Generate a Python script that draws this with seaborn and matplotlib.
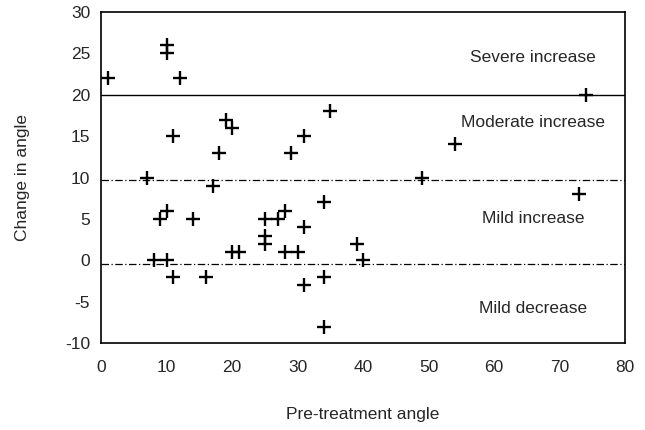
import matplotlib
matplotlib.use("Agg")
import matplotlib.pyplot as plt
import seaborn as sns
import pandas as pd

# data
pre_angle = [1, 10, 10, 12, 11, 19, 20, 18, 29, 31, 35, 7, 17, 9, 10, 14,
             8, 10, 11, 16, 20, 21, 25, 25, 25, 27, 28, 28, 30, 31, 31,
             34, 34, 34, 39, 40, 54, 49, 73, 74]
change = [22, 26, 25, 22, 15, 17, 16, 13, 13, 15, 18, 10, 9, 5, 6, 5,
          0, 0, -2, -2, 1, 1, 5, 3, 2, 5, 6, 1, 1, 4, -3,
          7, -2, -8, 2, 0, 14, 10, 8, 20]
zones = ["Severe increase", "Moderate increase", "Mild increase", "Mild decrease"]
zone_y = [24.5, 16.7, 5.0, -5.8]
cutoffs = [20, 9.7, -0.4]

df = pd.DataFrame({"pre": pre_angle, "change": change})

sns.set_style("white")
plt.rcParams["font.family"] = ["Liberation Sans", "DejaVu Sans"]
plt.rcParams["axes.unicode_minus"] = False

fig = plt.figure(figsize=(6.45, 4.3), dpi=100)
ax = fig.add_axes([0.157, 0.202, 0.812, 0.770])

sns.scatterplot(data=df, x="pre", y="change", marker="+", s=95,
                color="black", linewidth=1.7, ax=ax)

ax.axhline(cutoffs[0], color="black", lw=1.0)
for c in cutoffs[1:]:
    ax.axhline(c, color="black", lw=0.9, ls=(0, (6, 2, 1, 2)))

for name, yy in zip(zones, zone_y):
    ax.text(66, yy, name, ha="center", va="center", fontsize=12.5)

ax.set_xlim(0, 80)
ax.set_ylim(-10, 30)
ax.set_xticks(range(0, 81, 10))
ax.set_yticks(range(-10, 31, 5))
ax.tick_params(axis="y", direction="out", length=5, width=1, labelsize=12.5, pad=3)
ax.tick_params(axis="x", length=0, labelsize=12.5, pad=12)
for sp in ax.spines.values():
    sp.set_color("black")
    sp.set_linewidth(1.2)

ax.set_xlabel("Pre-treatment angle", fontsize=12.5, labelpad=23)
ax.set_ylabel("Change in angle", fontsize=12.5, labelpad=25)

fig.savefig("out.png", dpi=100)
